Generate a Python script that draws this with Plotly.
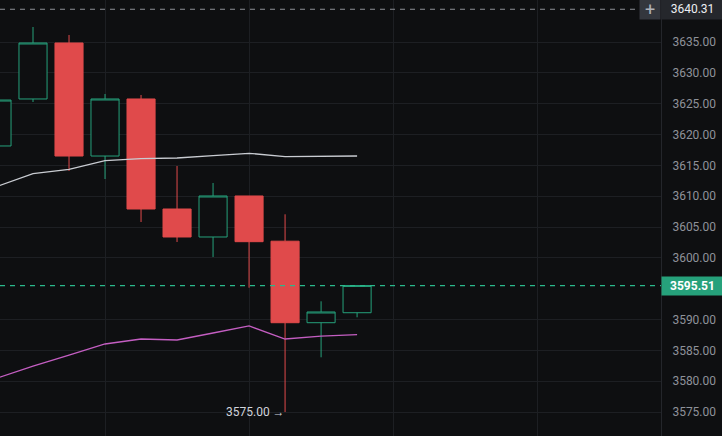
import plotly.graph_objects as go

# ---- data ----
idx = list(range(11))
opens  = [3618.14, 3625.76, 3634.84, 3616.51, 3625.76, 3607.92, 3603.38, 3610.03, 3602.70, 3589.48, 3591.10]
highs  = [3627.00, 3637.43, 3636.14, 3626.57, 3626.41, 3614.89, 3612.14, 3610.03, 3607.06, 3592.95, 3595.51]
lows   = [3616.00, 3625.27, 3614.08, 3612.78, 3605.81, 3602.57, 3600.14, 3595.16, 3575.00, 3583.87, 3590.36]
closes = [3625.59, 3634.84, 3616.51, 3625.76, 3607.92, 3603.38, 3610.03, 3602.62, 3589.48, 3591.22, 3595.51]

ma_white = [3611.57, 3613.64, 3614.36, 3615.75, 3616.08, 3616.19, 3616.56, 3616.95, 3616.40, 3616.47, 3616.51]
ma_pink  = [3580.50, 3582.46, 3584.24, 3586.03, 3586.84, 3586.68, 3587.81, 3588.95, 3586.84, 3587.32, 3587.54]

y_ticks = [3575, 3580, 3585, 3590, 3600, 3605, 3610, 3615, 3620, 3625, 3630, 3635]
high_marker = 3640.31
last_price = 3595.51
low_label_idx = 8
low_label_val = 3575.00

BG = "#0e0f11"
GRID = "#1d1f23"
GREEN = "#26a17b"
RED = "#e04a4b"

fig = go.Figure()
fig.add_trace(go.Candlestick(
    x=idx, open=opens, high=highs, low=lows, close=closes,
    increasing=dict(line=dict(color=GREEN, width=1), fillcolor=BG),
    decreasing=dict(line=dict(color=RED, width=1), fillcolor=RED),
    whiskerwidth=0, showlegend=False, hoverinfo="skip",
))
fig.add_trace(go.Scatter(x=idx, y=ma_white, mode="lines",
                         line=dict(color="#c9ccd2", width=1.3), showlegend=False, hoverinfo="skip"))
fig.add_trace(go.Scatter(x=idx, y=ma_pink, mode="lines",
                         line=dict(color="#c45ec2", width=1.3), showlegend=False, hoverinfo="skip"))

# dashed price lines
fig.add_shape(type="line", xref="paper", x0=0, x1=0.97, yref="y", y0=high_marker, y1=high_marker,
              line=dict(color="#8e9198", width=1, dash="5px,5px"))
fig.add_shape(type="line", xref="paper", x0=0, x1=1, yref="y", y0=last_price, y1=last_price,
              line=dict(color="#2bb88c", width=1.2, dash="5px,5px"))

# right axis labels
fig.add_annotation(x=1, xref="paper", y=high_marker, yref="y", xanchor="left", yanchor="middle",
                   text=f"{high_marker:.2f}", showarrow=False, align="center",
                   width=59, height=18, bgcolor="#25272c",
                   font=dict(family="Roboto", size=12, color="#eceef2"))
fig.add_annotation(x=1, xref="paper", y=high_marker, yref="y", xanchor="right", yanchor="middle",
                   text="+", showarrow=False, width=18, height=18, bgcolor="#34373e",
                   font=dict(family="Roboto", size=18, color="#b0b3ba"))
fig.add_annotation(x=1, xref="paper", y=last_price, yref="y", xanchor="left", yanchor="middle",
                   text=f"<b>{last_price:.2f}</b>", showarrow=False, align="center",
                   width=59, height=16, bgcolor=GREEN,
                   font=dict(family="Roboto", size=12, color="#ffffff"))
fig.add_annotation(x=low_label_idx, y=low_label_val, xanchor="right", yanchor="middle",
                   text=f"{low_label_val:.2f} →", showarrow=False, xshift=2,
                   font=dict(family="Roboto", size=12, color="#d1d4dc"))

fig.update_layout(
    width=722, height=436,
    margin=dict(l=0, r=61, t=0, b=0),
    paper_bgcolor=BG, plot_bgcolor=BG,
    showlegend=False,
    boxgap=0.22, boxgroupgap=0,
    xaxis=dict(range=[0.0833, 18.44], rangeslider=dict(visible=False),
               showticklabels=False, showgrid=True, gridcolor=GRID, gridwidth=1,
               tick0=3, dtick=4, zeroline=False, showline=False, fixedrange=True),
    yaxis=dict(side="right", range=[3571.11, 3641.81], tickvals=y_ticks,
               ticktext=[f"{v:.2f}" for v in y_ticks],
               showgrid=True, gridcolor=GRID, gridwidth=1, zeroline=False,
               showline=True, linecolor="#24262b", linewidth=1,
               ticks="", ticklabelstandoff=8,
               tickfont=dict(family="Roboto", size=12, color="#8e929a")),
)

fig.write_html("out.html", config={"displayModeBar": False},
               post_script="document.body.style.margin='0';document.body.style.background='#0e0f11';")
